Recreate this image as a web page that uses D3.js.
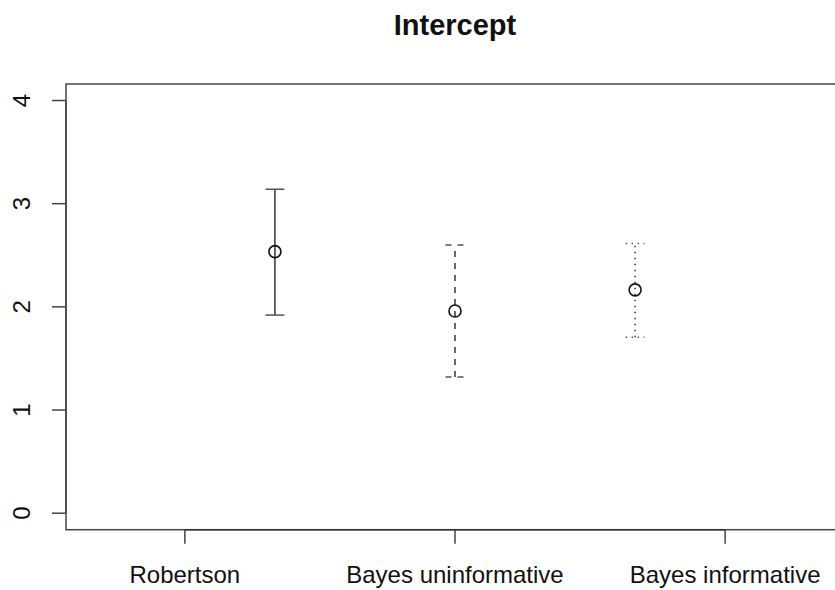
<!DOCTYPE html>
<html>
<head>
<meta charset="utf-8">
<script src="https://cdn.jsdelivr.net/npm/d3@7"></script>
<style>
  body { margin: 0; background: #fff; }
  text { font-family: "Liberation Sans", Arial, sans-serif; fill: #111; }
</style>
</head>
<body>
<div id="chart"></div>
<script>
// Estimates with interval bounds
const methods = ["Robertson", "Bayes uninformative", "Bayes informative"];
const axisAt = [1, 2, 3];
const pointAt = [4 / 3, 2, 8 / 3];
const estimates = [2.535, 1.96, 2.165];
const lower = [1.92, 1.32, 1.705];
const upper = [3.14, 2.60, 2.615];
const yTicks = [0, 1, 2, 3, 4];

const width = 835, height = 590;

const svg = d3.select("#chart")
  .append("svg")
  .attr("width", width)
  .attr("height", height);

// R-style plot region (xlim / ylim padded by 4%)
const x = d3.scaleLinear().domain([0.56, 3.44]).range([66, 844]);
const y = d3.scaleLinear().domain([-0.16, 4.16]).range([529.7, 84]);

const dashes = [null, "6,6", "1.5,4.5"];
const capHalf = 9.5;

// box
svg.append("rect")
  .attr("x", x(0.56)).attr("y", y(4.16))
  .attr("width", x(3.44) - x(0.56))
  .attr("height", y(-0.16) - y(4.16))
  .attr("fill", "none")
  .attr("stroke", "#444")
  .attr("stroke-width", 1.5);

// y axis
const yAxis = svg.append("g");
yAxis.append("line")
  .attr("x1", x(0.56)).attr("x2", x(0.56))
  .attr("y1", y(0)).attr("y2", y(4))
  .attr("stroke", "#444").attr("stroke-width", 1.5);
yAxis.selectAll(".ytick")
  .data(yTicks)
  .enter()
  .append("line")
    .attr("x1", x(0.56) - 14).attr("x2", x(0.56))
    .attr("y1", d => y(d)).attr("y2", d => y(d))
    .attr("stroke", "#444").attr("stroke-width", 1.5);
yAxis.selectAll(".ylab")
  .data(yTicks)
  .enter()
  .append("text")
    .attr("transform", d => `translate(30,${y(d)}) rotate(-90)`)
    .attr("text-anchor", "middle")
    .style("font-size", "24px")
    .text(d => d);

// x axis
const xAxis = svg.append("g");
xAxis.append("line")
  .attr("x1", x(1)).attr("x2", x(3))
  .attr("y1", y(-0.16)).attr("y2", y(-0.16))
  .attr("stroke", "#333").attr("stroke-width", 1.5);
xAxis.selectAll(".xtick")
  .data(axisAt)
  .enter()
  .append("line")
    .attr("x1", d => x(d)).attr("x2", d => x(d))
    .attr("y1", y(-0.16)).attr("y2", y(-0.16) + 14)
    .attr("stroke", "#444").attr("stroke-width", 1.5);
xAxis.selectAll(".xlab")
  .data(methods)
  .enter()
  .append("text")
    .attr("x", (d, i) => x(axisAt[i]))
    .attr("y", 583)
    .attr("text-anchor", "middle")
    .style("font-size", "24px")
    .text(d => d);

// error bars
const bars = svg.append("g")
  .selectAll("g")
  .data(methods.map((m, i) => ({ m, i, px: pointAt[i], est: estimates[i], lo: lower[i], hi: upper[i] })))
  .enter()
  .append("g");

bars.append("line")
  .attr("x1", d => x(d.px)).attr("x2", d => x(d.px))
  .attr("y1", d => y(d.lo)).attr("y2", d => y(d.hi))
  .attr("stroke", "#333").attr("stroke-width", 1.5)
  .attr("stroke-dasharray", d => dashes[d.i]);

[d => d.lo, d => d.hi].forEach(acc => {
  bars.append("line")
    .attr("x1", d => x(d.px) - capHalf).attr("x2", d => x(d.px) + capHalf)
    .attr("y1", d => y(acc(d))).attr("y2", d => y(acc(d)))
    .attr("stroke", "#555").attr("stroke-width", 1.5)
    .attr("stroke-dasharray", d => dashes[d.i]);
});

bars.append("circle")
  .attr("cx", d => x(d.px))
  .attr("cy", d => y(d.est))
  .attr("r", 6)
  .attr("fill", "none")
  .attr("stroke", "#111")
  .attr("stroke-width", 1.6);

// title
svg.append("text")
  .attr("x", x(2))
  .attr("y", 35)
  .attr("text-anchor", "middle")
  .style("font-size", "29px")
  .style("font-weight", "bold")
  .text("Intercept");
</script>
</body>
</html>
